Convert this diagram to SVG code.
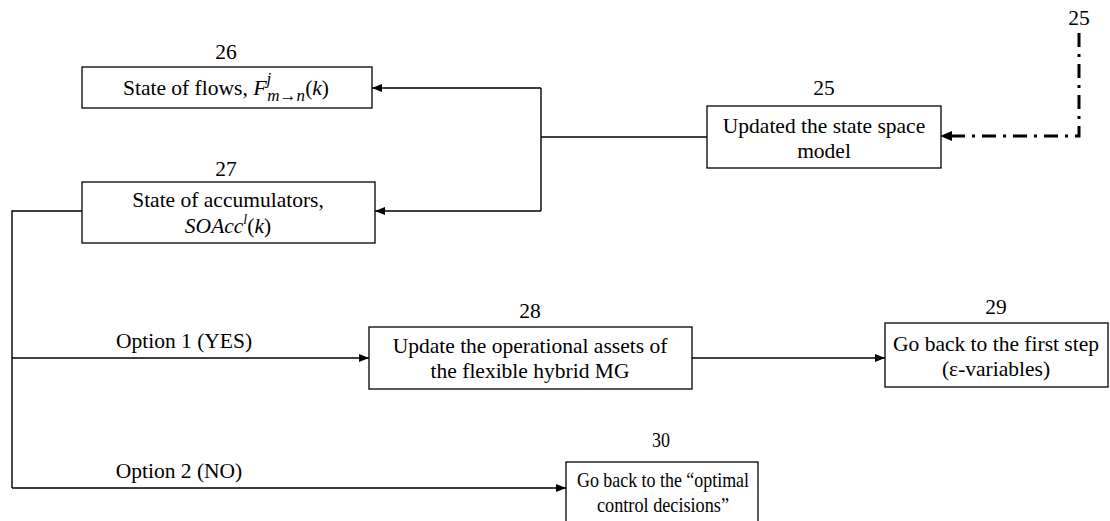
<svg xmlns="http://www.w3.org/2000/svg" width="1110" height="521" viewBox="0 0 1110 521">
  <defs>
    <marker id="arr" markerWidth="10" markerHeight="8" refX="10" refY="4" orient="auto" markerUnits="userSpaceOnUse">
      <path d="M0,0 L10,4 L0,8 Z" fill="#000"/>
    </marker>
    <style>
      .box { fill: #fff; stroke: #000; stroke-width: 1.3; }
      .txt { font-family: "Liberation Serif", "Times New Roman", serif; font-size: 21.5px; fill: #000; text-anchor: middle; }
      .it { font-style: italic; }
      .conn { fill: none; stroke: #000; stroke-width: 1.4; }
      .dash { fill: none; stroke: #000; stroke-width: 3; stroke-dasharray: 14 7 3 7; }
    </style>
  </defs>
  <rect width="1110" height="521" fill="#fff"/>

  <!-- connectors -->
  <g id="connectors">
    <polyline class="dash" points="1079,33 1079,136 950,136"/>
    <path d="M952,131 L940,136 L952,141 Z" fill="#000"/>
    <polyline class="conn" points="707,137 541,137"/>
    <polyline class="conn" points="541,88 541,211"/>
    <line class="conn" x1="541" y1="88" x2="372" y2="88" marker-end="url(#arr)"/>
    <line class="conn" x1="541" y1="211" x2="375" y2="211" marker-end="url(#arr)"/>
    <polyline class="conn" points="82,211 12,211 12,488"/>
    <line class="conn" x1="12" y1="358" x2="369" y2="358" marker-end="url(#arr)"/>
    <line class="conn" x1="692" y1="358" x2="885" y2="358" marker-end="url(#arr)"/>
    <line class="conn" x1="12" y1="488" x2="566" y2="488" marker-end="url(#arr)"/>
    <text class="txt" x="184" y="348">Option 1 (YES)</text>
    <text class="txt" x="179" y="478">Option 2 (NO)</text>
    <text class="txt" x="1079" y="25">25</text>
  </g>

  <g id="node25">
    <text class="txt" x="824" y="95">25</text>
    <rect class="box" x="707" y="106" width="234" height="62"/>
    <text class="txt" x="824" y="133">Updated the state space</text>
    <text class="txt" x="824" y="158">model</text>
  </g>

  <g id="node26">
    <text class="txt" x="226" y="59">26</text>
    <rect class="box" x="82" y="67" width="290" height="41"/>
    <text class="txt" x="226" y="95">State of flows, <tspan class="it" font-size="22">F</tspan><tspan class="it" font-size="17" dy="-11" dx="0">j</tspan><tspan class="it" font-size="17" dy="17" dx="-4">m→n</tspan><tspan dy="-6">(</tspan><tspan class="it">k</tspan>)</text>
  </g>

  <g id="node27">
    <text class="txt" x="226" y="176">27</text>
    <rect class="box" x="82" y="182" width="293" height="61"/>
    <text class="txt" x="228" y="207">State of accumulators,</text>
    <text class="txt" x="228" y="233"><tspan class="it">SOAcc</tspan><tspan class="it" font-size="14" dy="-9">l</tspan><tspan dy="9">(</tspan><tspan class="it">k</tspan>)</text>
  </g>

  <g id="node28">
    <text class="txt" x="530" y="318">28</text>
    <rect class="box" x="369" y="327" width="323" height="62"/>
    <text class="txt" x="530" y="353">Update the operational assets of</text>
    <text class="txt" x="530" y="378">the flexible hybrid MG</text>
  </g>

  <g id="node29">
    <text class="txt" x="996" y="314">29</text>
    <rect class="box" x="885" y="323" width="223" height="64"/>
    <text class="txt" x="996" y="351">Go back to the first step</text>
    <text class="txt" x="996" y="376">(ε-variables)</text>
  </g>

  <!-- narrower lettering in this box -->
  <g id="node30">
    <text class="txt" x="661" y="447" textLength="18" lengthAdjust="spacingAndGlyphs">30</text>
    <rect class="box" x="566" y="462" width="192" height="62"/>
    <text class="txt" x="663" y="487" textLength="172" lengthAdjust="spacingAndGlyphs">Go back to the “optimal</text>
    <text class="txt" x="663" y="512" textLength="132" lengthAdjust="spacingAndGlyphs">control decisions”</text>
  </g>
</svg>
